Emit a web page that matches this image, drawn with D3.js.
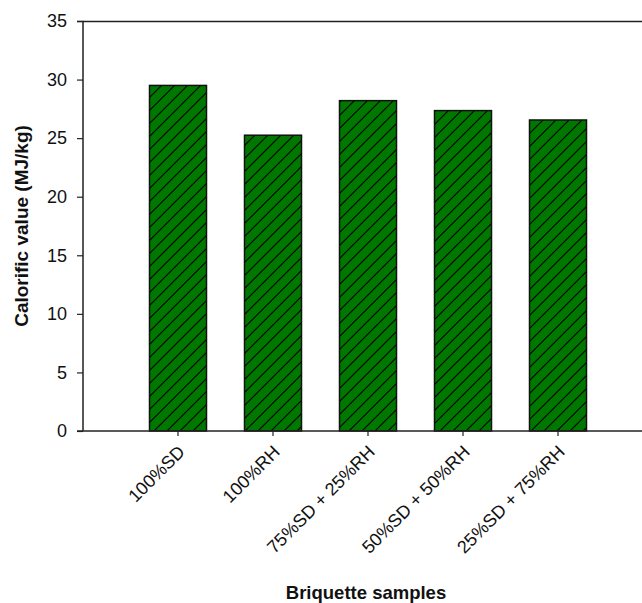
<!DOCTYPE html>
<html>
<head>
<meta charset="utf-8">
<script src="https://cdn.jsdelivr.net/npm/d3@7"></script>
<style>
body{margin:0;background:#fff;}
svg{display:block;}
text{font-family:"Liberation Sans",Arial,sans-serif;}
</style>
</head>
<body>
<svg id="chart" width="642" height="603"></svg>
<script>
const categories = ["100%SD","100%RH","75%SD + 25%RH","50%SD + 50%RH","25%SD + 75%RH"];
const values = [29.5, 25.25, 28.2, 27.35, 26.55];
const yTicks = [0,5,10,15,20,25,30,35];

const svg = d3.select("#chart");
const mLeft = 83, mRight = 642, mTop = 21, mBottom = 431;

const x = d3.scaleBand().domain(categories).range([130.5, 605.5]).paddingInner(0.4).paddingOuter(0.2);
const y = d3.scaleLinear().domain([0,35]).range([mBottom, mTop]);

const defs = svg.append("defs");
const pat = defs.append("pattern").attr("id","hatch").attr("patternUnits","userSpaceOnUse")
  .attr("width",13).attr("height",13);
pat.append("rect").attr("width",13).attr("height",13).attr("fill","#007800");
pat.append("path").attr("d","M-1,1 l2,-2 M0,13 l13,-13 M12,14 l2,-2").attr("stroke","#000").attr("stroke-width",1.1);

// frame top line
svg.append("line").attr("x1",mLeft).attr("x2",mRight).attr("y1",mTop+0.5).attr("y2",mTop+0.5).attr("stroke","#222").attr("stroke-width",1.5);

// bars
svg.append("g").selectAll("rect").data(values).join("rect")
  .attr("x",(d,i)=>x(categories[i]))
  .attr("y",d=>y(d))
  .attr("width",x.bandwidth())
  .attr("height",d=>y(0)-y(d))
  .attr("fill","url(#hatch)")
  .attr("stroke","#111").attr("stroke-width",1.5);

// y axis
const yAxis = d3.axisLeft(y).tickValues(yTicks).tickSize(6).tickPadding(10).tickFormat(d3.format("d"));
const gy = svg.append("g").attr("transform",`translate(${mLeft},0)`).call(yAxis);
gy.select(".domain").attr("stroke","#222").attr("stroke-width",1.5).attr("d",`M-6,${mTop+0.5}H0V${mBottom}`);
gy.selectAll(".tick line").attr("stroke","#222").attr("stroke-width",1.2);
gy.selectAll(".tick text").attr("font-size",18).attr("fill","#111");

// x axis
const xAxis = d3.axisBottom(x).tickSize(5).tickSizeOuter(0);
const gx = svg.append("g").attr("transform",`translate(0,${mBottom})`).call(xAxis);
gx.select(".domain").attr("stroke","#222").attr("stroke-width",1.5).attr("d",`M${mLeft-6},0H${mRight}`);
gx.selectAll(".tick line").attr("stroke","#222").attr("stroke-width",1.2);
gx.selectAll(".tick text").attr("font-size",18).attr("fill","#111")
  .attr("text-anchor","end").attr("dy",0).attr("y",0).attr("x",0)
  .attr("transform","translate(8,22) rotate(-45)");

// axis titles
svg.append("text").attr("transform",`translate(28,226) rotate(-90)`)
  .attr("text-anchor","middle").attr("font-size",19).attr("font-weight","bold").attr("fill","#111")
  .text("Calorific value (MJ/kg)");
svg.append("text").attr("x",366).attr("y",599).attr("text-anchor","middle")
  .attr("font-size",18.5).attr("font-weight","bold").attr("fill","#111").text("Briquette samples");
</script>
</body>
</html>
